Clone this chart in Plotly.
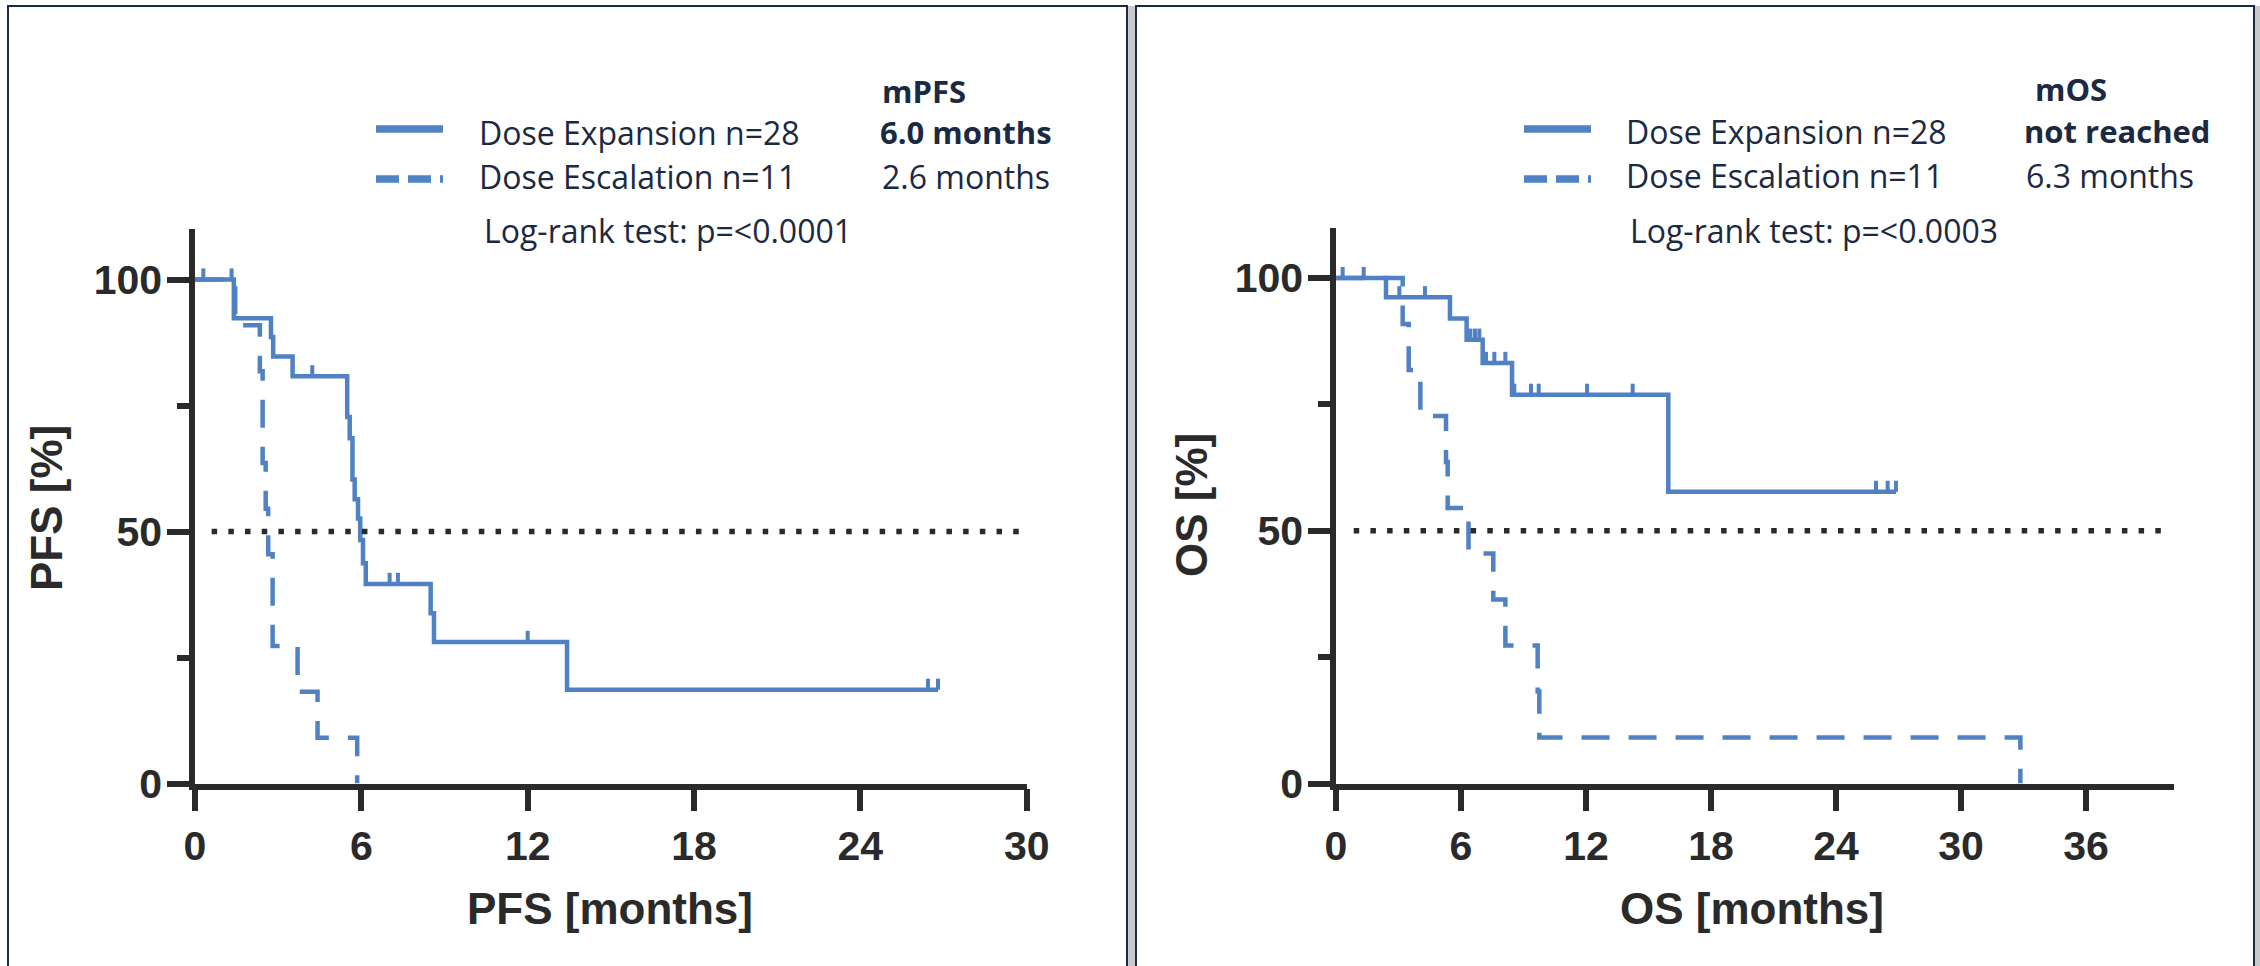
import plotly.graph_objects as go

W, H = 2260, 966
BLUE = "#4f81c3"
AXIS = "#2a2a2a"
NAVY = "#1b2942"

# ---------------- data ----------------
# PFS, dose expansion (n=28)
pfs_exp_times = [1.40, 2.74, 2.82, 3.52, 5.49, 5.58, 5.68, 5.76, 5.88, 5.96, 6.06, 6.16, 8.50, 8.62, 13.42]
pfs_exp_surv = [92.3, 88.6, 84.7, 80.8, 72.7, 68.5, 60.3, 56.4, 52.6, 48.3, 43.7, 39.6, 33.8, 28.1, 18.6]
pfs_exp_last = 26.8
pfs_exp_censor = [0.30, 1.32, 4.23, 7.02, 7.32, 12.0, 26.44, 26.8]

# PFS, dose escalation (n=11)
pfs_esc_times = [1.45, 2.34, 2.44, 2.55, 2.64, 2.80, 3.70, 4.42, 5.85]
pfs_esc_surv = [90.9, 81.8, 63.6, 54.5, 45.5, 27.3, 18.2, 9.1, 0.0]
pfs_esc_last = 5.85
pfs_esc_censor = []

# OS, dose expansion (n=28)
os_exp_times = [2.40, 5.47, 6.27, 7.04, 8.45, 15.95]
os_exp_surv = [96.2, 92.0, 87.8, 83.2, 76.9, 57.7]
os_exp_last = 26.88
os_exp_censor = [0.32, 1.33, 3.04, 4.27, 6.45, 6.67, 6.88, 7.20, 7.60, 8.13,
                 8.56, 9.36, 9.73, 12.05, 14.24, 25.92, 26.48, 26.88]

# OS, dose escalation (n=11)
os_esc_times = [3.20, 3.49, 4.05, 5.28, 5.36, 6.36, 7.55, 8.13, 9.68, 9.76, 32.85]
os_esc_surv = [90.9, 81.8, 72.7, 63.6, 54.5, 45.5, 36.4, 27.3, 18.2, 9.1, 0.0]
os_esc_last = 32.85
os_esc_censor = []

x_ticks_pfs = [0, 6, 12, 18, 24, 30]
x_ticks_os = [0, 6, 12, 18, 24, 30, 36]
y_ticks = [0, 50, 100]
y_minor = [25, 75]

legend_names = ["Dose Expansion n=28", "Dose Escalation n=11"]
pfs_medians = ["6.0 months", "2.6 months"]
os_medians = ["not reached", "6.3 months"]
pfs_head, os_head = "mPFS", "mOS"
pfs_test, os_test = "Log-rank test: p=<0.0001", "Log-rank test: p=<0.0003"
pfs_xtitle, pfs_ytitle = "PFS [months]", "PFS [%]"
os_xtitle, os_ytitle = "OS [months]", "OS [%]"
median_level = 50

# ---------------- helpers ----------------
def px(x):
    return x / W

def py(y):
    return 1 - y / H

def surv_at(t, times, surv):
    s = 100.0
    for ti, si in zip(times, surv):
        if ti <= t:
            s = si
    return s

TICK_H = 2.2  # censor tick height in % units

fig = go.Figure()

def add_curve(times, surv, last, censor, dash, xa, ya):
    xs = [0] + list(times) + [last]
    ys = [100] + list(surv) + [surv[-1]]
    fig.add_trace(go.Scatter(x=xs, y=ys, mode="lines", line_shape="hv",
                             line=dict(color=BLUE, width=4.5, dash=dash),
                             xaxis=xa, yaxis=ya, cliponaxis=False,
                             showlegend=False, hoverinfo="skip"))
    if censor:
        cx, cy = [], []
        for c in censor:
            s = surv_at(c, times, surv)
            cx += [c, c, None]
            cy += [s, s + TICK_H, None]
        fig.add_trace(go.Scatter(x=cx, y=cy, mode="lines",
                                 line=dict(color=BLUE, width=4),
                                 xaxis=xa, yaxis=ya, cliponaxis=False,
                                 showlegend=False, hoverinfo="skip"))

DASH = "28px,19px"
add_curve(pfs_esc_times, pfs_esc_surv, pfs_esc_last, pfs_esc_censor, DASH, "x", "y")
add_curve(pfs_exp_times, pfs_exp_surv, pfs_exp_last, pfs_exp_censor, "solid", "x", "y")
add_curve(os_esc_times, os_esc_surv, os_esc_last, os_esc_censor, DASH, "x2", "y2")
add_curve(os_exp_times, os_exp_surv, os_exp_last, os_exp_censor, "solid", "x2", "y2")

tickfont = dict(family="Liberation Sans, Arial", size=41, color=AXIS, weight="bold")

def xaxis_cfg(dom, rng, ticks):
    return dict(domain=dom, range=rng, tickvals=ticks, ticktext=[str(t) for t in ticks],
                showline=True, linewidth=5.5, linecolor=AXIS, ticks="outside",
                ticklen=22, tickwidth=5.5, tickcolor=AXIS, showgrid=False, zeroline=False,
                tickfont=tickfont, fixedrange=True, automargin=False)

def yaxis_cfg(dom, anchor):
    return dict(domain=dom, range=[0, 110], tickvals=y_ticks, ticktext=[str(t) for t in y_ticks],
                showline=True, linewidth=5.5, linecolor=AXIS, ticks="outside",
                ticklen=22, tickwidth=5.5, tickcolor=AXIS, showgrid=False, zeroline=False,
                tickfont=tickfont, anchor=anchor, fixedrange=True, ticklabelstandoff=-3,
                automargin=False,
                minor=dict(tickvals=y_minor, ticks="outside", ticklen=12, tickwidth=5.5,
                           tickcolor=AXIS, showgrid=False))

fig.update_layout(
    template="none",
    width=W, height=H, autosize=False,
    margin=dict(l=0, r=0, t=0, b=0, pad=0, autoexpand=False),
    paper_bgcolor="white", plot_bgcolor="rgba(0,0,0,0)",
    xaxis=xaxis_cfg([px(195), px(1026.7)], [0, 30], x_ticks_pfs) | dict(anchor="y"),
    yaxis=yaxis_cfg([py(783.5), py(229.1)], "x"),
    xaxis2=xaxis_cfg([px(1336), px(2173.5)], [0, 40.2], x_ticks_os) | dict(anchor="y2"),
    yaxis2=yaxis_cfg([py(783.5), py(227.5)], "x2"),
)

shapes = []
# panel frames and gray gaps
shapes.append(dict(type="rect", xref="paper", yref="paper", x0=px(1128), x1=px(1135),
                   y0=-0.05, y1=py(6), fillcolor="#c7c9cd", line=dict(width=0), layer="below"))
shapes.append(dict(type="rect", xref="paper", yref="paper", x0=px(2255), x1=1.01,
                   y0=-0.05, y1=py(6), fillcolor="#c7c9cd", line=dict(width=0), layer="below"))
for x0, x1 in [(8, 1127), (1136, 2254)]:
    shapes.append(dict(type="rect", xref="paper", yref="paper", x0=px(x0), x1=px(x1),
                       y0=-0.05, y1=py(6), line=dict(color=NAVY, width=2), layer="below"))
# dotted 50% reference lines
DOT = "5.5px,11.2px"
shapes.append(dict(type="line", xref="x", yref="y", x0=0.6, x1=29.8, y0=median_level, y1=median_level,
                   line=dict(color=AXIS, width=5.5, dash=DOT)))
shapes.append(dict(type="line", xref="x2", yref="y2", x0=0.85, x1=39.6, y0=median_level, y1=median_level,
                   line=dict(color=AXIS, width=5.5, dash=DOT)))
# legend samples
for lx in (376, 1524):
    shapes.append(dict(type="line", xref="paper", yref="paper", x0=px(lx), x1=px(lx + 67),
                       y0=py(129), y1=py(129), line=dict(color=BLUE, width=7.5)))
    shapes.append(dict(type="line", xref="paper", yref="paper", x0=px(lx), x1=px(lx + 67),
                       y0=py(179), y1=py(179), line=dict(color=BLUE, width=7.5, dash="23px,9px")))
fig.update_layout(shapes=shapes)

ann = []
def text(x, y, s, bold=False, size=32, anchor="left"):
    ann.append(dict(x=px(x), y=py(y), xref="paper", yref="paper", text=s, showarrow=False,
                    xanchor=anchor, yanchor="middle",
                    font=dict(family="Open Sans", size=size, color=NAVY,
                              weight="bold" if bold else "normal")))

# left panel legend block
text(880, 91, pfs_head, bold=True, size=31)
text(477, 132, legend_names[0])
text(878, 132, pfs_medians[0], bold=True, size=31)
text(477, 176, legend_names[1])
text(880, 176, pfs_medians[1])
text(482, 230, pfs_test)
# right panel legend block
text(2033, 89, os_head, bold=True, size=31)
text(1624, 131, legend_names[0])
text(2022, 131, os_medians[0], bold=True, size=31)
text(1624, 175, legend_names[1])
text(2024, 175, os_medians[1])
text(1628, 231, os_test)

def title(x, y, s, angle=0):
    ann.append(dict(x=px(x), y=py(y), xref="paper", yref="paper", text=s, showarrow=False,
                    xanchor="center", yanchor="middle", textangle=angle,
                    font=dict(family="Liberation Sans, Arial", size=44, color=AXIS, weight="bold")))

title(610, 908, pfs_xtitle)
title(47, 508, pfs_ytitle, -90)
title(1752, 908, os_xtitle)
title(1191, 505, os_ytitle, -90)
fig.update_layout(annotations=ann)

fig.write_html("out.html", config={"displayModeBar": False, "responsive": False},
               post_script="document.body.style.margin='0';document.body.style.overflow='hidden';")
